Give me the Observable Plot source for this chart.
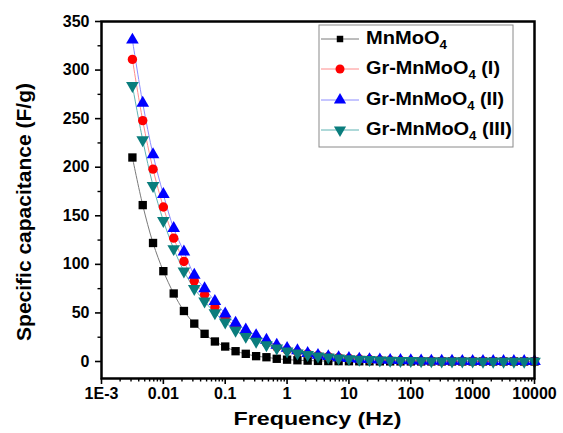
<!DOCTYPE html>
<html>
<head>
<meta charset="utf-8">
<script src="https://cdn.jsdelivr.net/npm/d3@7"></script>
<script src="https://cdn.jsdelivr.net/npm/@observablehq/plot@0.6"></script>
<style>
  html, body { margin: 0; padding: 0; background: #fff; }
  #chart { width: 563px; height: 433px; }
</style>
</head>
<body>
<div id="chart"></div>
<script>
// ---- data ----
const frequency = [0.00316, 0.00464, 0.00681, 0.01, 0.0147, 0.0215, 0.0316, 0.0464, 0.0681,
  0.1, 0.147, 0.215, 0.316, 0.464, 0.681, 1, 1.47, 2.15, 3.16, 4.64, 6.81,
  10, 14.7, 21.5, 31.6, 46.4, 68.1, 100, 147, 215, 316, 464, 681,
  1000, 1470, 2150, 3160, 4640, 6810, 10000];
const seriesNames = ["MnMoO4", "Gr-MnMoO4 (I)", "Gr-MnMoO4 (II)", "Gr-MnMoO4 (III)"];
const mnmoo4 = [210, 161, 122, 93, 70, 52, 39, 28.5, 20.6, 15.4, 10.6, 7.9, 5.5, 4.4, 2.8, 1.9, 1.3, 0.9, 0.6, 0.45,
  0.35, 0.28, 0.22, 0.18, 0.15, 0.12, 0.1, 0.08, 0.07, 0.06, 0.05, 0.04, 0.035, 0.03, 0.025, 0.02, 0.018, 0.015, 0.012, 0.01];
const grI = [311, 248, 198, 159, 127, 103, 83, 69, 56, 45, 36, 29, 23.5, 19, 15, 12, 9.7, 7.8, 6.2, 5,
  4, 3.2, 2.5, 2, 1.6, 1.3, 1.0, 0.8, 0.65, 0.5, 0.4, 0.35, 0.3, 0.25, 0.2, 0.17, 0.15, 0.12, 0.1, 0.08];
const grII = [331, 266, 213, 172, 137, 113, 89, 75, 62, 49, 39.5, 32.6, 26.8, 22, 17, 13.7, 11.3, 8.5, 6.5, 5.2,
  4.1, 3.3, 2.6, 2.1, 1.7, 1.35, 1.1, 0.9, 0.7, 0.55, 0.45, 0.38, 0.3, 0.25, 0.2, 0.17, 0.14, 0.12, 0.1, 0.08];
const grIII = [284, 228, 181, 145, 116, 93, 75, 62, 50, 40.5, 32, 25.7, 20.6, 17, 13.7, 10.6, 8.5, 7, 5.5, 4.4,
  3.5, 2.8, 2.2, 1.8, 1.45, 1.15, 0.95, 0.75, 0.6, 0.48, 0.4, 0.33, 0.27, 0.22, 0.18, 0.15, 0.12, 0.1, 0.08, 0.07];
const xTickValues = [0.001, 0.01, 0.1, 1, 10, 100, 1000, 10000];
const xTickLabels = ["1E-3", "0.01", "0.1", "1", "10", "100", "1000", "10000"];
const yTickValues = [0, 50, 100, 150, 200, 250, 300, 350];
const yMinorTicks = [25, 75, 125, 175, 225, 275, 325];

// ---- styles ----
const triangleDown = {
  draw(context, size) {
    const s3 = Math.sqrt(3);
    const y = -Math.sqrt(size / (s3 * 3));
    context.moveTo(0, -y * 2);
    context.lineTo(-s3 * y, y);
    context.lineTo(s3 * y, y);
    context.closePath();
  }
};
const styles = [
  {marker: "#000000", line: "#7a7a7a", symbol: "square"},
  {marker: "#ff0000", line: "#ff8c8c", symbol: "circle"},
  {marker: "#0000ff", line: "#8c8cff", symbol: "triangle"},
  {marker: "#0a7d7d", line: "#5fb3b3", symbol: triangleDown}
];
const allValues = [mnmoo4, grI, grII, grIII];

const data = [];
allValues.forEach((vals, si) => vals.forEach((v, i) => data.push({f: frequency[i], c: v, s: si})));

// minor x ticks (log 2..9 per decade)
const xMinor = [];
for (let e = -3; e < 4; e++) for (let m = 2; m <= 9; m++) xMinor.push(m * Math.pow(10, e));

const marks = [];
allValues.forEach((vals, si) => {
  const d = data.filter(r => r.s === si);
  marks.push(Plot.line(d, {x: "f", y: "c", stroke: styles[si].line, strokeWidth: 1, curve: "catmull-rom"}));
});
allValues.forEach((vals, si) => {
  const d = data.filter(r => r.s === si);
  marks.push(Plot.dot(d, {x: "f", y: "c", fill: styles[si].marker, stroke: "none", r: 4.7, symbol: styles[si].symbol}));
});

const plot = Plot.plot({
  width: 563,
  height: 433,
  marginLeft: 101,
  marginRight: 29,
  marginTop: 21,
  marginBottom: 55,
  style: {fontFamily: "'Liberation Sans', Arial, sans-serif", fontWeight: "bold", background: "#fff", overflow: "visible"},
  x: {type: "log", domain: [0.001, 10000]},
  y: {domain: [-17.5, 350]},
  marks: [
    ...marks,
    Plot.axisX({ticks: xTickValues, tickFormat: (d, i) => xTickLabels[xTickValues.indexOf(d)], tickSize: 6, tickPadding: 3,
      fontSize: 16, fontWeight: "bold", fill: "#000", strokeWidth: 1.6, label: null}),
    Plot.axisX({ticks: xMinor, tickFormat: () => "", tickSize: 3.5, strokeWidth: 1.4, label: null}),
    Plot.axisY({ticks: yTickValues, tickSize: 6, tickPadding: 6, fontSize: 16, fontWeight: "bold", fill: "#000", strokeWidth: 1.6, label: null}),
    Plot.axisY({ticks: yMinorTicks, tickFormat: () => "", tickSize: 3.5, strokeWidth: 1.4, label: null}),
    Plot.frame({stroke: "#000", strokeWidth: 2.5})
  ]
});
document.getElementById("chart").appendChild(plot);

const svg = d3.select(plot);
// axis titles
svg.append("text")
  .attr("x", 317.5).attr("y", 425)
  .attr("text-anchor", "middle")
  .attr("textLength", 168).attr("lengthAdjust", "spacingAndGlyphs")
  .style("font-size", "19px").style("font-weight", "bold").attr("fill", "#000")
  .text("Frequency (Hz)");
svg.append("text")
  .attr("transform", "translate(31,212) rotate(-90)")
  .attr("text-anchor", "middle")
  .style("font-size", "21px").style("font-weight", "bold").attr("fill", "#000")
  .text("Specific capacitance (F/g)");

// legend
const lg = svg.append("g").attr("text-anchor", "start");
lg.append("rect").attr("x", 319).attr("y", 25).attr("width", 194).attr("height", 122)
  .attr("fill", "#fff").attr("stroke", "#8a8a8a").attr("stroke-width", 1);
const rowsY = [39, 69, 100, 130];
const textLens = [81, 134, 138, 146];
seriesNames.forEach((name, si) => {
  const y = rowsY[si];
  lg.append("line").attr("x1", 321).attr("x2", 359).attr("y1", y).attr("y2", y)
    .attr("stroke", styles[si].line).attr("stroke-width", 1);
  const type = si === 0 ? d3.symbolSquare : si === 1 ? d3.symbolCircle : si === 2 ? d3.symbolTriangle : triangleDown;
  const size = si === 0 ? 42 : 64;
  lg.append("path").attr("d", d3.symbol(type, size)()).attr("transform", `translate(340,${y})`)
    .attr("fill", styles[si].marker);
  const t = lg.append("text").attr("x", 366).attr("y", y + 5).attr("text-anchor", "start")
    .attr("textLength", textLens[si]).attr("lengthAdjust", "spacingAndGlyphs")
    .style("font-size", "18px").style("font-weight", "bold").attr("fill", "#000");
  const m = name.match(/^(.*MnMoO)4(.*)$/);
  t.append("tspan").text(m[1]);
  t.append("tspan").attr("dy", 5).style("font-size", "12px").text("4");
  t.append("tspan").attr("dy", -5).text(m[2]);
});
</script>
</body>
</html>
